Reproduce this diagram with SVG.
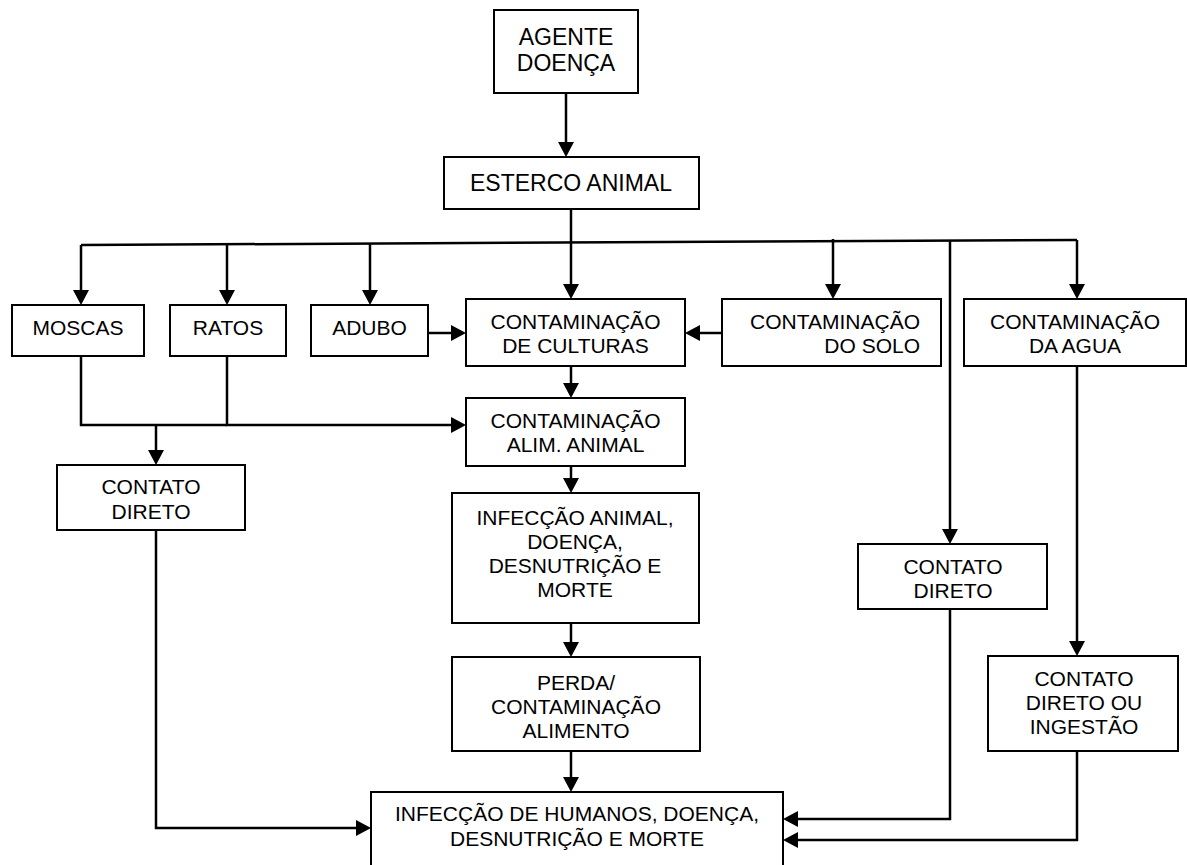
<svg xmlns="http://www.w3.org/2000/svg" width="1187" height="865" viewBox="0 0 1187 865">
<style>
.box{fill:#fff;stroke:#000;stroke-width:2}
.t{font-family:"Liberation Sans",Arial,sans-serif;font-size:21px;fill:#000;text-anchor:middle}
.big{font-size:23px}
.r{text-anchor:end}
.c{fill:none;stroke:#000;stroke-width:2.5}
.a{marker-end:url(#ah)}
</style>
<defs>
<marker id="ah" markerUnits="userSpaceOnUse" markerWidth="16" markerHeight="16" refX="10" refY="8" orient="auto">
<path d="M0,0 L15,8 L0,16 z" fill="#000"/>
</marker>
</defs>
<rect width="1187" height="865" fill="#fff"/>
<g id="connectors">
<line class="c a" x1="566" y1="93" x2="566" y2="152"/>
<line class="c" x1="81" y1="245" x2="1077" y2="240"/>
<line class="c a" x1="571" y1="209" x2="571" y2="294"/>
<line class="c a" x1="81" y1="245" x2="81" y2="300"/>
<line class="c a" x1="227" y1="244.3" x2="227" y2="300"/>
<line class="c a" x1="370" y1="243.5" x2="370" y2="300"/>
<line class="c a" x1="833" y1="239" x2="833" y2="294"/>
<line class="c a" x1="1077" y1="240" x2="1077" y2="294"/>
<line class="c a" x1="950" y1="240" x2="950" y2="539"/>
<line class="c a" x1="428" y1="333" x2="461" y2="333"/>
<line class="c a" x1="722" y1="333" x2="690" y2="333"/>
<line class="c a" x1="571" y1="366" x2="571" y2="393"/>
<polyline class="c" points="81,356 81,425 227,425"/>
<polyline class="c a" points="227,356 227,425 461,425"/>
<line class="c a" x1="156" y1="425" x2="156" y2="460"/>
<line class="c a" x1="571" y1="466" x2="571" y2="488"/>
<line class="c a" x1="571" y1="623" x2="571" y2="652"/>
<line class="c a" x1="571" y1="751" x2="571" y2="787"/>
<polyline class="c a" points="156,530 156,828 366,828"/>
<polyline class="c a" points="950,609 950,819 788,819"/>
<line class="c a" x1="1077" y1="366" x2="1077" y2="651"/>
<polyline class="c a" points="1077,751 1077,840 788,840"/>
</g>
<g id="agente">
<rect class="box" x="494" y="10" width="144" height="83"/>
<text class="t big" x="566" y="45">AGENTE</text>
<text class="t big" x="566" y="71">DOENÇA</text>
</g>
<g id="esterco">
<rect class="box" x="444" y="157" width="255" height="52"/>
<text class="t big" x="571" y="191">ESTERCO ANIMAL</text>
</g>
<g id="moscas">
<rect class="box" x="12" y="305" width="132" height="51"/>
<text class="t" x="78" y="335">MOSCAS</text>
</g>
<g id="ratos">
<rect class="box" x="170" y="305" width="116" height="51"/>
<text class="t" x="228" y="335">RATOS</text>
</g>
<g id="adubo">
<rect class="box" x="311" y="305" width="117" height="51"/>
<text class="t" x="369.5" y="335">ADUBO</text>
</g>
<g id="culturas">
<rect class="box" x="466" y="299" width="219" height="67"/>
<text class="t" x="575.5" y="329">CONTAMINAÇÃO</text>
<text class="t" x="575.5" y="353">DE CULTURAS</text>
</g>
<g id="solo">
<rect class="box" x="722" y="299" width="219" height="67"/>
<text class="t r" x="920" y="329">CONTAMINAÇÃO</text>
<text class="t r" x="920" y="353">DO SOLO</text>
</g>
<g id="agua">
<rect class="box" x="964" y="299" width="222" height="67"/>
<text class="t" x="1075" y="329">CONTAMINAÇÃO</text>
<text class="t" x="1075" y="353">DA AGUA</text>
</g>
<g id="alim">
<rect class="box" x="466" y="398" width="219" height="68"/>
<text class="t" x="575.5" y="428">CONTAMINAÇÃO</text>
<text class="t" x="575.5" y="452">ALIM. ANIMAL</text>
</g>
<g id="contato-esq">
<rect class="box" x="57" y="465" width="188" height="65"/>
<text class="t" x="151" y="494">CONTATO</text>
<text class="t" x="151" y="519">DIRETO</text>
</g>
<g id="infeccao-animal">
<rect class="box" x="452" y="493" width="247" height="130"/>
<text class="t" x="575" y="525">INFECÇÃO ANIMAL,</text>
<text class="t" x="575" y="549">DOENÇA,</text>
<text class="t" x="575" y="573">DESNUTRIÇÃO E</text>
<text class="t" x="575" y="597">MORTE</text>
</g>
<g id="contato-dir">
<rect class="box" x="858" y="544" width="189" height="65"/>
<text class="t" x="953" y="574">CONTATO</text>
<text class="t" x="953" y="598">DIRETO</text>
</g>
<g id="perda">
<rect class="box" x="452" y="657" width="248" height="94"/>
<text class="t" x="576" y="690">PERDA/</text>
<text class="t" x="576" y="714">CONTAMINAÇÃO</text>
<text class="t" x="576" y="738">ALIMENTO</text>
</g>
<g id="ingestao">
<rect class="box" x="988" y="656" width="190" height="95"/>
<text class="t" x="1084" y="686">CONTATO</text>
<text class="t" x="1084" y="710">DIRETO OU</text>
<text class="t" x="1084" y="734">INGESTÃO</text>
</g>
<g id="humanos">
<rect class="box" x="371" y="792" width="412" height="80"/>
<text class="t" x="577" y="821">INFECÇÃO DE HUMANOS, DOENÇA,</text>
<text class="t" x="577" y="846">DESNUTRIÇÃO E MORTE</text>
</g>
</svg>
